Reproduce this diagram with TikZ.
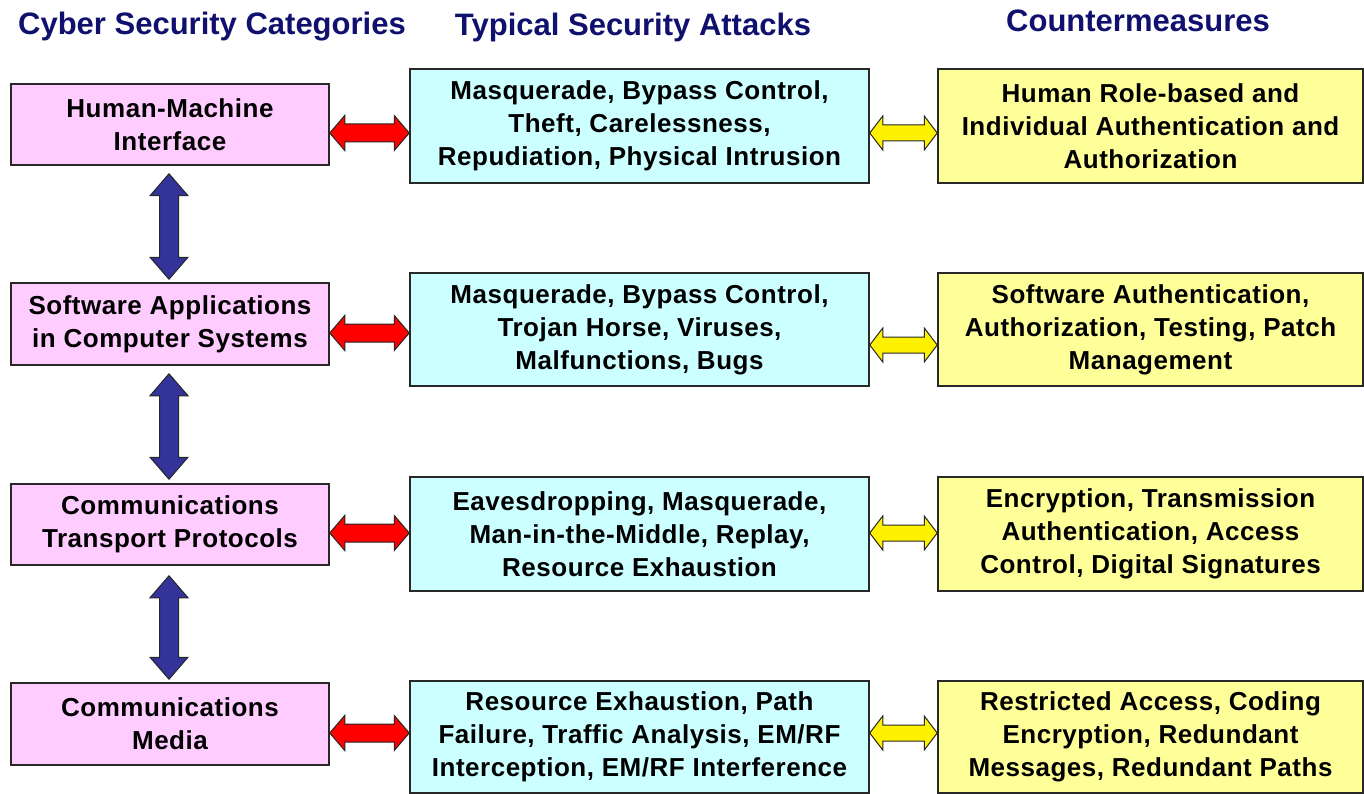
\documentclass[tikz,border=0pt]{standalone}
\usepackage{fontspec}
\setmainfont{Liberation Sans}
\usetikzlibrary{calc}
\definecolor{pinkbox}{RGB}{255,204,255}
\definecolor{cyanbox}{RGB}{204,255,255}
\definecolor{yelbox}{RGB}{255,255,153}
\definecolor{navy}{RGB}{16,16,110}
\definecolor{bluearr}{RGB}{51,51,153}
\definecolor{boxline}{RGB}{40,40,40}
\newcommand\harr[6]{%
 \draw[#1] let \p1=(#2), \p2=(#3) in
 (\x1,\y1) -- (\x1+#4,\y1+#5) -- (\x1+#4,\y1+#6) -- (\x2-#4,\y1+#6) -- (\x2-#4,\y1+#5) -- (\x2,\y1)
 -- (\x2-#4,\y1-#5) -- (\x2-#4,\y1-#6) -- (\x1+#4,\y1-#6) -- (\x1+#4,\y1-#5) -- cycle;}
\newcommand\varr[6]{%
 \draw[#1] let \p1=(#2), \p2=(#3) in
 (\x1,\y1) -- (\x1+#5,\y1-#4) -- (\x1+#6,\y1-#4) -- (\x1+#6,\y2+#4) -- (\x1+#5,\y2+#4) -- (\x1,\y2)
 -- (\x1-#5,\y2+#4) -- (\x1-#6,\y2+#4) -- (\x1-#6,\y1-#4) -- (\x1-#5,\y1-#4) -- cycle;}
\begin{document}
\begin{tikzpicture}[x=1pt,y=-1pt,
  base/.style={draw=boxline,line width=1.5pt,inner sep=0pt,align=center,
    font=\fontsize{26}{33}\selectfont\bfseries\addfontfeature{LetterSpace=2}},
  catbox/.style={base,fill=pinkbox,minimum width=318pt},
  attbox/.style={base,fill=cyanbox,minimum width=459pt},
  cmbox/.style={base,fill=yelbox,minimum width=425pt},
  header/.style={text=navy,font=\fontsize{31}{37}\selectfont\bfseries},
  redarrow/.style={fill=red,draw=black!85,line width=1pt,line join=miter},
  yelarrow/.style={fill=yellow,draw=black!85,line width=1pt,line join=miter},
  bluearrow/.style={fill=bluearr,draw=black!85,line width=1pt,line join=miter}]
\useasboundingbox (0,0) rectangle (1364,794);
% headers
\node[header] (hd1) at (212,27) {Cyber Security Categories};
\node[header] (hd2) at (633,27) {Typical Security Attacks};
\node[header] (hd3) at (1138,21) {Countermeasures};
% category boxes
\node[catbox,minimum height=81pt] (c1) at (170,124.5) {Human-Machine\\Interface};
\node[catbox,minimum height=82pt] (c2) at (170,324) {Software Applications\\in Computer Systems};
\node[catbox,minimum height=81pt] (c3) at (170,524.5) {Communications\\Transport Protocols};
\node[catbox,minimum height=82pt] (c4) at (170,724) {Communications\\Media};
% attack boxes
\node[attbox,minimum height=114pt] (a1) at (639.5,126) {Masquerade, Bypass Control,\\Theft, Carelessness,\\Repudiation, Physical Intrusion};
\node[attbox,minimum height=113pt] (a2) at (639.5,329.5) {Masquerade, Bypass Control,\\Trojan Horse, Viruses,\\Malfunctions, Bugs};
\node[attbox,minimum height=114pt] (a3) at (639.5,534) {Eavesdropping, Masquerade,\\Man-in-the-Middle, Replay,\\Resource Exhaustion};
\node[attbox,minimum height=112pt] (a4) at (639.5,737) {Resource Exhaustion, Path\\Failure, Traffic Analysis, EM/RF\\Interception, EM/RF Interference};
% countermeasure boxes
\node[cmbox,minimum height=114pt] (m1) at (1150.5,126) {Human Role-based and\\Individual Authentication and\\Authorization};
\node[cmbox,minimum height=113pt] (m2) at (1150.5,329.5) {Software Authentication,\\Authorization, Testing, Patch\\Management};
\node[cmbox,minimum height=114pt] (m3) at (1150.5,534) {Encryption, Transmission\\Authentication, Access\\Control, Digital Signatures};
\node[cmbox,minimum height=112pt] (m4) at (1150.5,737) {Restricted Access, Coding\\Encryption, Redundant\\Messages, Redundant Paths};
% red arrows
\coordinate (r1a) at (c1.east |- 0,133); \coordinate (r1b) at (a1.west |- 0,133);
\coordinate (r2a) at (c2.east |- 0,333); \coordinate (r2b) at (a2.west |- 0,333);
\coordinate (r3a) at (c3.east |- 0,533); \coordinate (r3b) at (a3.west |- 0,533);
\coordinate (r4a) at (c4.east |- 0,733); \coordinate (r4b) at (a4.west |- 0,733);
\harr{redarrow}{r1a}{r1b}{15pt}{17.5pt}{9pt}
\harr{redarrow}{r2a}{r2b}{15pt}{17.5pt}{9pt}
\harr{redarrow}{r3a}{r3b}{15pt}{17.5pt}{9pt}
\harr{redarrow}{r4a}{r4b}{15pt}{17.5pt}{9pt}
% yellow arrows
\coordinate (y1a) at (a1.east |- 0,133); \coordinate (y1b) at (m1.west |- 0,133);
\coordinate (y2a) at (a2.east |- 0,345); \coordinate (y2b) at (m2.west |- 0,345);
\coordinate (y3a) at (a3.east |- 0,533); \coordinate (y3b) at (m3.west |- 0,533);
\coordinate (y4a) at (a4.east |- 0,733); \coordinate (y4b) at (m4.west |- 0,733);
\harr{yelarrow}{y1a}{y1b}{13pt}{17pt}{8pt}
\harr{yelarrow}{y2a}{y2b}{13pt}{17pt}{8pt}
\harr{yelarrow}{y3a}{y3b}{13pt}{17pt}{8pt}
\harr{yelarrow}{y4a}{y4b}{13pt}{17pt}{8pt}
% blue vertical arrows
\coordinate (v1a) at ($(c1.south)+(-1,8)$);  \coordinate (v1b) at ($(c2.north)+(-1,-3)$);
\coordinate (v2a) at ($(c2.south)+(-1,8)$);  \coordinate (v2b) at ($(c3.north)+(-1,-4)$);
\coordinate (v3a) at ($(c3.south)+(-1,10)$); \coordinate (v3b) at ($(c4.north)+(-1,-3)$);
\varr{bluearrow}{v1a}{v1b}{22pt}{19pt}{9.5pt}
\varr{bluearrow}{v2a}{v2b}{22pt}{19pt}{9.5pt}
\varr{bluearrow}{v3a}{v3b}{22pt}{19pt}{9.5pt}
\end{tikzpicture}
\end{document}
